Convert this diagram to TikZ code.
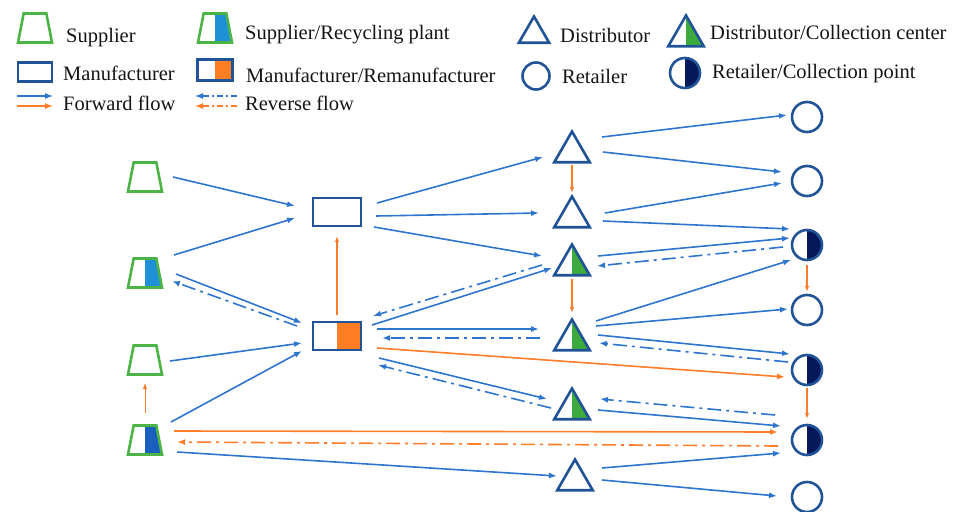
\documentclass[tikz,border=0pt]{standalone}
\usepackage{fontspec}
\setmainfont{Liberation Serif}
\usetikzlibrary{shapes.geometric,arrows.meta}

\definecolor{nodeblue}{RGB}{32,84,150}
\definecolor{flowblue}{RGB}{46,117,206}
\definecolor{floworange}{RGB}{255,125,40}
\definecolor{supgreen}{RGB}{76,180,70}
\definecolor{reclight}{RGB}{30,144,214}
\definecolor{recdark}{RGB}{25,95,190}
\definecolor{collgreen}{RGB}{60,170,60}
\definecolor{navy}{RGB}{5,25,90}
\definecolor{remorange}{RGB}{255,125,35}

\tikzset{
  flow/.style={line width=1.6pt, -{Latex[length=8pt,width=6pt]}},
  fwd/.style={flow, flowblue},
  rev/.style={flow, flowblue, dash pattern=on 14pt off 5pt on 3pt off 5pt},
  ofwd/.style={flow, floworange},
  orev/.style={flow, floworange, dash pattern=on 14pt off 5pt on 3pt off 5pt},
  oup/.style={floworange, line width=1pt, -{Latex[length=6pt,width=4.5pt]}},
  halffill/.style={path picture={\fill[#1] (path picture bounding box.south) rectangle (path picture bounding box.north east);}},
  supplier/.style={trapezium, trapezium stretches=true, trapezium left angle=76, trapezium right angle=76,
    minimum width=34pt, minimum height=29pt, inner sep=1pt, draw=supgreen, line width=2.6pt, fill=white},
  manuf/.style={rectangle, minimum width=48pt, minimum height=28pt, inner sep=0pt, draw=nodeblue, line width=2.6pt, fill=white},
  distr/.style={regular polygon, regular polygon sides=3, minimum size=41pt, inner sep=0pt, draw=nodeblue, line width=2.6pt, fill=white},
  retail/.style={circle, minimum size=30pt, inner sep=0pt, draw=nodeblue, line width=2.6pt, fill=white},
  legtext/.style={anchor=base west, inner sep=0pt, font=\fontsize{20.5}{24}\selectfont, text=black!92}
}

\begin{document}
\begin{tikzpicture}[x=1pt,y=-1pt]
\useasboundingbox (0,0) rectangle (963,511);

% Legend
\node[supplier] (lsup) at (35,28) {};
\node[legtext] (tsup) at (66,42) {Supplier};
\node[supplier, halffill=reclight] (lrec) at (215,28) {};
\node[legtext] (trec) at (245,40) {Supplier/Recycling plant};
\node[manuf, minimum width=34pt, minimum height=19pt] (lman) at (35,72) {};
\node[legtext] (tman) at (63,80) {Manufacturer};
\node[manuf, halffill=remorange, minimum width=35pt, minimum height=21pt] (lrem) at (215,70) {};
\node[legtext] (trem) at (246,82) {Manufacturer/Remanufacturer};
\node[distr, minimum size=35pt] (ldis) at (534,34) {};
\node[legtext] (tdis) at (560,42) {Distributor};
\node[distr, halffill=collgreen] (lcol) at (686,36) {};
\node[legtext] (tcol) at (710,40) {Distributor/Collection center};
\node[retail, minimum size=27pt] (lret) at (536,76) {};
\node[legtext] (tret) at (562,83) {Retailer};
\node[retail, halffill=navy] (lrcp) at (685,73) {};
\node[legtext] (trcp) at (712,78) {Retailer/Collection point};

\coordinate (lfb1) at (17,96);  \coordinate (lfb2) at (53,96);
\coordinate (lfo1) at (17,106); \coordinate (lfo2) at (53,106);
\coordinate (lrb1) at (237,96); \coordinate (lrb2) at (195,96);
\coordinate (lro1) at (237,106); \coordinate (lro2) at (195,106);
\draw[fwd, line width=1.3pt] (lfb1) -- (lfb2);
\draw[ofwd, line width=1.3pt] (lfo1) -- (lfo2);
\draw[rev, line width=1.3pt, dash pattern=on 6pt off 3pt on 2pt off 3pt] (lrb1) -- (lrb2);
\draw[orev, line width=1.3pt, dash pattern=on 6pt off 3pt on 2pt off 3pt] (lro1) -- (lro2);
\node[legtext] (tfwd) at (63,110) {Forward flow};
\node[legtext] (trev) at (245,110) {Reverse flow};

% Suppliers and recycling plants
\node[supplier] (S1) at (145,177) {};
\node[supplier, halffill=reclight] (S2) at (145,273) {};
\node[supplier] (S3) at (145,360) {};
\node[supplier, halffill=recdark] (S4) at (145,440) {};

% Manufacturers
\node[manuf] (M1) at (337,212) {};
\node[manuf, halffill=remorange] (M2) at (337,336) {};

% Distributors (polygon centre sits 5pt below the box centre)
\node[distr] (D1) at (572,152) {};
\node[distr] (D2) at (572,217) {};
\node[distr, halffill=collgreen] (D3) at (572,265) {};
\node[distr, halffill=collgreen] (D4) at (572,340) {};
\node[distr, halffill=collgreen] (D5) at (572,409) {};
\node[distr] (D6) at (575,480) {};

% Retailers
\node[retail] (R1) at (807,117) {};
\node[retail] (R2) at (807,181) {};
\node[retail, halffill=navy] (R3) at (807,245) {};
\node[retail] (R4) at (807,310) {};
\node[retail, halffill=navy] (R5) at (807,370) {};
\node[retail, halffill=navy] (R6) at (807,440) {};
\node[retail] (R7) at (807,497) {};

% Supplier level
\draw[fwd] ([shift={(28,0)}]S1.center) -- ([shift={(-42,-6)}]M1.center);
\draw[fwd] ([shift={(29,-18)}]S2.center) -- ([shift={(-42,6)}]M1.center);
\draw[fwd] ([shift={(31,1)}]S2.center) -- ([shift={(-35,-13)}]M2.center);
\draw[rev] ([shift={(-40,-10)}]M2.center) -- ([shift={(27,8)}]S2.center);
\draw[fwd] ([shift={(25,1)}]S3.center) -- ([shift={(-35,7)}]M2.center);
\draw[fwd] ([shift={(26,-18)}]S4.center) -- ([shift={(-35,15)}]M2.center);
\draw[oup] ([shift={(0,-27)}]S4.center) -- ([shift={(0,23)}]S3.center);
\draw[ofwd] ([shift={(29,-9)}]S4.center) -- ([shift={(-29,-8)}]R6.center);
\draw[orev] ([shift={(-29,6)}]R6.center) -- ([shift={(32,2)}]S4.center);
\draw[fwd] ([shift={(32,12)}]S4.center) -- ([shift={(-18,-4)}]D6.center);

% Manufacturer level
\draw[fwd] ([shift={(40,-9)}]M1.center) -- ([shift={(-29,5)}]D1.center);
\draw[fwd] ([shift={(39,4)}]M1.center) -- ([shift={(-33,-4)}]D2.center);
\draw[fwd] ([shift={(37,15)}]M1.center) -- ([shift={(-30,-9)}]D3.center);
\draw[oup, line width=1.3pt] ([shift={(0,-21)}]M2.center) -- ([shift={(0,24)}]M1.center);
\draw[fwd] ([shift={(35,-11)}]M2.center) -- ([shift={(-20,3)}]D3.center);
\draw[rev] ([shift={(-30,0)}]D3.center) -- ([shift={(36,-20)}]M2.center);
\draw[fwd] ([shift={(40,-7)}]M2.center) -- ([shift={(-33,-11)}]D4.center);
\draw[rev] ([shift={(-32,-2)}]D4.center) -- ([shift={(45,2)}]M2.center);
\draw[ofwd] ([shift={(40,12)}]M2.center) -- ([shift={(-22,7)}]R5.center);
\draw[fwd] ([shift={(42,22)}]M2.center) -- ([shift={(-25,-10)}]D5.center);
\draw[rev] ([shift={(-21,-1)}]D5.center) -- ([shift={(41,29)}]M2.center);

% Distributor level
\draw[oup, line width=1.3pt] ([shift={(0,13)}]D1.center) -- ([shift={(0,-24)}]D2.center);
\draw[oup, line width=1.3pt] ([shift={(0,14)}]D3.center) -- ([shift={(0,-27)}]D4.center);
\draw[fwd] ([shift={(30,-15)}]D1.center) -- ([shift={(-20,-2)}]R1.center);
\draw[fwd] ([shift={(31,0)}]D1.center) -- ([shift={(-25,-9)}]R2.center);
\draw[fwd] ([shift={(33,-4)}]D2.center) -- ([shift={(-25,2)}]R2.center);
\draw[fwd] ([shift={(31,4)}]D2.center) -- ([shift={(-17,-16)}]R3.center);
\draw[fwd] ([shift={(26,-9)}]D3.center) -- ([shift={(-17,-7)}]R3.center);
\draw[rev] ([shift={(-24,2)}]R3.center) -- ([shift={(25,1)}]D3.center);
\draw[fwd] ([shift={(24,-19)}]D4.center) -- ([shift={(-16,15)}]R3.center);
\draw[fwd] ([shift={(24,-14)}]D4.center) -- ([shift={(-19,-1)}]R4.center);
\draw[fwd] ([shift={(26,-5)}]D4.center) -- ([shift={(-17,-16)}]R5.center);
\draw[rev] ([shift={(-19,-8)}]R5.center) -- ([shift={(27,3)}]D4.center);
\draw[rev] ([shift={(-32,-25)}]R6.center) -- ([shift={(28,-10)}]D5.center);
\draw[fwd] ([shift={(26,1)}]D5.center) -- ([shift={(-26,-14)}]R6.center);
\draw[fwd] ([shift={(27,-12)}]D6.center) -- ([shift={(-26,13)}]R6.center);
\draw[fwd] ([shift={(27,0)}]D6.center) -- ([shift={(-30,-1)}]R7.center);

% Retailer level
\draw[oup, line width=1.3pt] ([shift={(0,20)}]R3.center) -- ([shift={(0,-18)}]R4.center);
\draw[oup, line width=1.3pt] ([shift={(0,18)}]R5.center) -- ([shift={(0,-21)}]R6.center);

\end{tikzpicture}
\end{document}
